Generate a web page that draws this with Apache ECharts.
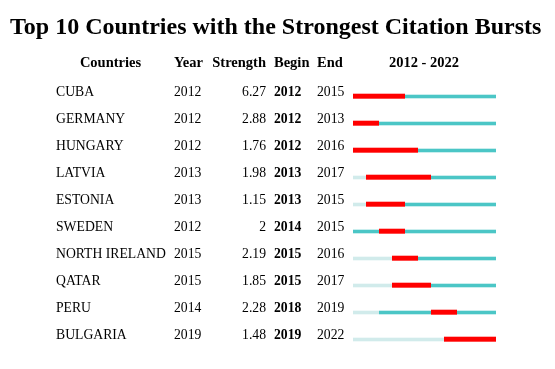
<!DOCTYPE html>
<html><head><meta charset="utf-8">
<script src="https://cdn.jsdelivr.net/npm/echarts@6/dist/echarts.min.js"></script>
<style>html,body{margin:0;padding:0;background:#fff}#c{width:555px;height:369px}</style>
</head><body><div id="c"></div>
<script>
var countries = ['CUBA','GERMANY','HUNGARY','LATVIA','ESTONIA','SWEDEN','NORTH IRELAND','QATAR','PERU','BULGARIA'];
var years = [2012,2012,2012,2013,2013,2012,2015,2015,2014,2019];
var strengths = ['6.27','2.88','1.76','1.98','1.15','2','2.19','1.85','2.28','1.48'];
var begins = [2012,2012,2012,2013,2013,2014,2015,2015,2018,2019];
var ends = [2015,2013,2016,2017,2015,2015,2016,2017,2019,2022];
var headers = ['Countries','Year','Strength','Begin','End','2012 - 2022'];
var startYear = 2012, endYear = 2022;

var FONT = '"Liberation Serif", "Times New Roman", serif';
var chart = echarts.init(document.getElementById('c'), null, {renderer:'canvas'});

var rows = countries.map(function(c,i){return [startYear, i];});

function barItem(params, api){
  var i = api.value(1);
  var children = [];
  for (var y = startYear; y <= endYear; y++){
    var p0 = api.coord([y, i]);
    var p1 = api.coord([y+1, i]);
    var color, h;
    if (y < years[i]) { color = '#d1ebeb'; h = 3.6; }
    else if (y >= begins[i] && y <= ends[i]) { color = '#ff0000'; h = 5; }
    else { color = '#4bc6c6'; h = 3.6; }
    children.push({type:'rect', shape:{x:p0[0], y:p0[1]-h/2+ (h===5?-0.3:0), width:p1[0]-p0[0], height:h},
      style:{fill:color}});
  }
  return {type:'group', children:children};
}

function textItem(params, api){
  var i = api.value(1);
  var yy = api.coord([startYear, i])[1] - 4.5;
  var base = {fontFamily: FONT, fontSize: 13.7, fill:'#000', textVerticalAlign:'middle'};
  function t(x, s, align, bold){
    return {type:'text', x:x, y:yy, style: Object.assign({}, base, {text:String(s), textAlign:align, fontWeight: bold?'bold':'normal'})};
  }
  return {type:'group', children:[
    t(56, countries[i], 'left'),
    t(174, years[i], 'left'),
    t(266, strengths[i], 'right'),
    t(274, begins[i], 'left', true),
    t(317, ends[i], 'left')
  ]};
}

var hx = [110.5, 174, 266, 274, 317, 424];
var ha = ['center','left','right','left','left','center'];
var option = {
  animation:false,
  title:{text:'Top 10 Countries with the Strongest Citation Bursts', left:5, top:11,
    textStyle:{fontFamily:FONT, fontWeight:'bold', fontSize:24, color:'#000'}},
  graphic: headers.map(function(h,k){
    return {type:'text', x:hx[k], y:63.5, style:{text:h, fontFamily:FONT, fontWeight:'bold', fontSize:14.5, fill:'#000', textAlign:ha[k], textVerticalAlign:'middle'}};
  }),
  grid:{left:353, right:59, top:83, height:270},
  xAxis:{type:'value', min:startYear, max:endYear+1, show:false},
  yAxis:{type:'category', data:countries, inverse:true, show:false},
  series:[
    {type:'custom', renderItem:barItem, data:rows, encode:{x:0,y:1}, clip:false},
    {type:'custom', renderItem:textItem, data:rows, encode:{x:0,y:1}, clip:false}
  ]
};
chart.setOption(option);
</script></body></html>
